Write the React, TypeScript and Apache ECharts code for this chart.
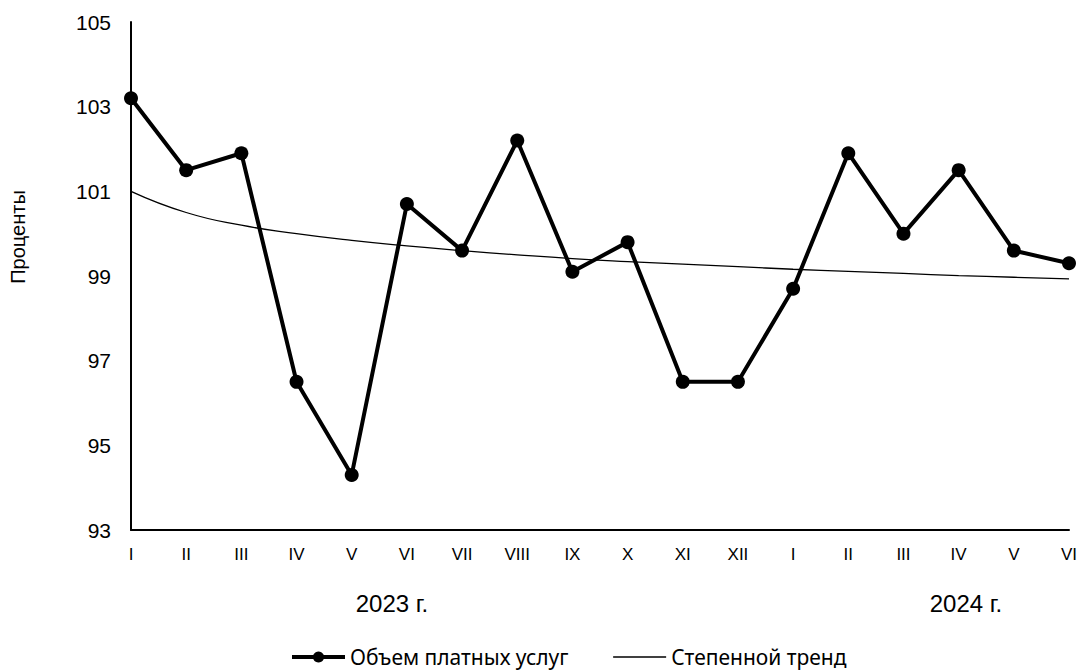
import React, { useEffect, useRef } from "react";
import * as echarts from "echarts";

const categories = ["I", "II", "III", "IV", "V", "VI", "VII", "VIII", "IX", "X", "XI", "XII", "I", "II", "III", "IV", "V", "VI"];
const paidServices = [103.2, 101.5, 101.9, 96.5, 94.3, 100.7, 99.6, 102.2, 99.1, 99.8, 96.5, 96.5, 98.7, 101.9, 100.0, 101.5, 99.6, 99.3];
const powerTrend = [101.0, 100.5, 100.2, 100.0, 99.84, 99.71, 99.6, 99.5, 99.41, 99.34, 99.28, 99.22, 99.16, 99.11, 99.06, 99.01, 98.97, 98.93];
const yearLabels = ["2023 г.", "2024 г."];
const seriesNames = ["Объем платных услуг", "Степенной тренд"];
const yAxisName = "Проценты";

const FONT = "'Liberation Sans', Arial, sans-serif";

export default function App() {
  const ref = useRef<HTMLDivElement>(null);
  useEffect(() => {
    if (!ref.current) return;
    const chart = echarts.init(ref.current, null, { renderer: "svg" });
    chart.setOption({
      animation: false,
      backgroundColor: "#ffffff",
      grid: { left: 131, right: 12, top: 22, bottom: 142, containLabel: false },
      legend: {
        left: 290,
        top: 646,
        padding: 0,
        itemWidth: 53,
        itemHeight: 14,
        itemGap: 44,
        textStyle: { fontFamily: "'Noto Sans', sans-serif", fontSize: 21, lineHeight: 22, color: "#000" },
        data: [
          { name: seriesNames[0], lineStyle: { width: 4 } },
          { name: seriesNames[1], itemStyle: { opacity: 0 }, lineStyle: { width: 1.3 } },
        ],
      },
      xAxis: {
        type: "category",
        data: categories,
        boundaryGap: false,
        axisLine: { lineStyle: { color: "#000", width: 2 } },
        axisTick: { show: false },
        axisLabel: { color: "#000", fontFamily: FONT, fontSize: 17, margin: 16, interval: 0 },
        splitLine: { show: false },
      },
      yAxis: {
        type: "value",
        min: 93,
        max: 105,
        interval: 2,
        axisLine: { show: true, lineStyle: { color: "#000", width: 2 } },
        axisTick: { show: false },
        axisLabel: { color: "#000", fontFamily: FONT, fontSize: 21, margin: 20 },
        splitLine: { show: false },
      },
      graphic: [
        {
          type: "text",
          x: 18,
          y: 237,
          rotation: Math.PI / 2,
          style: { text: yAxisName, fontFamily: FONT, fontSize: 20, fill: "#000", align: "center", verticalAlign: "middle" },
        },
        {
          type: "text",
          x: 392,
          y: 603,
          style: { text: yearLabels[0], fontFamily: FONT, fontSize: 24, fill: "#000", align: "center", verticalAlign: "middle" },
        },
        {
          type: "text",
          x: 966,
          y: 603,
          style: { text: yearLabels[1], fontFamily: FONT, fontSize: 24, fill: "#000", align: "center", verticalAlign: "middle" },
        },
      ],
      series: [
        {
          name: seriesNames[0],
          type: "line",
          data: paidServices,
          symbol: "circle",
          symbolSize: 14,
          itemStyle: { color: "#000" },
          lineStyle: { color: "#000", width: 4 },
          z: 3,
        },
        {
          name: seriesNames[1],
          type: "line",
          data: powerTrend,
          smooth: true,
          symbol: "none",
          itemStyle: { color: "#000" },
          lineStyle: { color: "#000", width: 1.3 },
          z: 2,
        },
      ],
    });
    return () => chart.dispose();
  }, []);
  return (
    <div
      ref={ref}
      style={{ position: "absolute", left: 0, top: 0, width: 1081, height: 672, background: "#fff" }}
    />
  );
}
